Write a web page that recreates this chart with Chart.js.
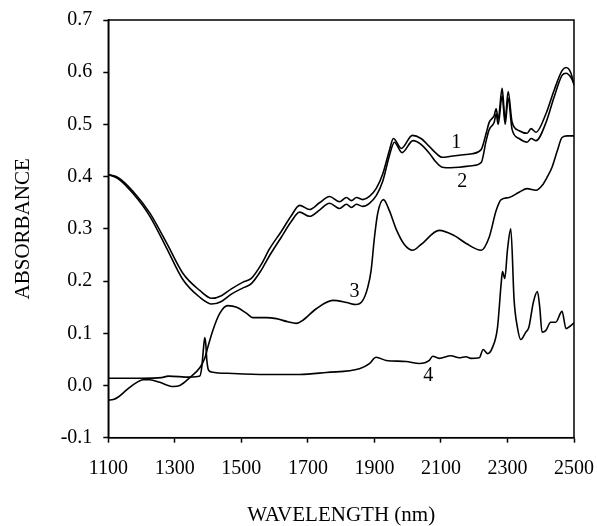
<!DOCTYPE html>
<html>
<head>
<meta charset="utf-8">
<script src="https://cdn.jsdelivr.net/npm/chart.js@4/dist/chart.umd.min.js"></script>
<style>
  html, body { margin: 0; padding: 0; background: #ffffff; }
  #wrap { width: 597px; height: 526px; }
</style>
</head>
<body>
<div id="wrap"><canvas id="c" width="597" height="526"></canvas></div>
<script>
// ---- data ----
const xTicks = [1100, 1300, 1500, 1700, 1900, 2100, 2300, 2500];
const yTicks = [-0.1, 0.0, 0.1, 0.2, 0.3, 0.4, 0.5, 0.6, 0.7];
const seriesNames = ["1", "2", "3", "4"];

const wl1 = [1100,1130,1174,1225,1276,1324,1375,1411,1440,1470,1505,1530,1560,1585,1620,1650,1675,1705,1735,1765,1795,1816,1831,1846,1865,1885,1906,1925,1945,1957,1981,2014,2040,2065,2085,2104,2130,2155,2194,2221,2236,2245,2260,2266,2272,2284,2293,2302,2314,2335,2359,2371,2386,2416,2440,2464,2476,2491,2500];
const abs1 = [0.404,0.398,0.372,0.330,0.272,0.215,0.182,0.167,0.172,0.185,0.198,0.205,0.232,0.262,0.295,0.325,0.345,0.337,0.350,0.362,0.352,0.360,0.354,0.360,0.356,0.362,0.378,0.405,0.450,0.473,0.454,0.479,0.473,0.458,0.445,0.437,0.439,0.441,0.444,0.452,0.483,0.504,0.517,0.530,0.510,0.569,0.508,0.563,0.504,0.488,0.483,0.492,0.485,0.521,0.565,0.603,0.609,0.598,0.575];

const wl2 = [1100,1130,1174,1225,1276,1324,1375,1411,1440,1470,1505,1530,1560,1585,1620,1650,1675,1705,1735,1765,1795,1816,1831,1846,1865,1885,1906,1925,1945,1960,1983,2016,2040,2065,2085,2104,2130,2155,2194,2221,2236,2245,2260,2266,2272,2284,2293,2302,2314,2335,2359,2371,2386,2416,2440,2464,2476,2491,2500];
const abs2 = [0.404,0.396,0.368,0.324,0.262,0.203,0.169,0.156,0.161,0.175,0.187,0.195,0.221,0.249,0.284,0.314,0.332,0.324,0.336,0.349,0.339,0.347,0.341,0.347,0.343,0.349,0.364,0.391,0.440,0.466,0.446,0.469,0.462,0.445,0.428,0.418,0.417,0.418,0.421,0.427,0.469,0.490,0.504,0.520,0.500,0.555,0.500,0.550,0.490,0.473,0.466,0.473,0.469,0.504,0.552,0.594,0.598,0.590,0.578];

const wl3 = [1100,1115,1130,1156,1186,1205,1225,1255,1295,1315,1345,1375,1390,1399,1414,1435,1459,1486,1516,1534,1575,1605,1640,1665,1685,1725,1775,1816,1845,1865,1880,1890,1900,1910,1927,1945,1965,1990,2015,2040,2095,2140,2176,2221,2245,2266,2281,2305,2335,2359,2386,2404,2420,2434,2450,2464,2480,2500];
const abs3 = [-0.028,-0.027,-0.022,-0.008,0.006,0.011,0.011,0.006,-0.002,0.000,0.015,0.034,0.052,0.073,0.105,0.138,0.153,0.150,0.138,0.130,0.130,0.128,0.122,0.119,0.125,0.147,0.163,0.159,0.155,0.163,0.188,0.220,0.283,0.330,0.356,0.335,0.300,0.270,0.259,0.270,0.297,0.287,0.272,0.259,0.284,0.335,0.356,0.360,0.370,0.377,0.374,0.383,0.400,0.418,0.450,0.475,0.478,0.478];

const wl4 = [1100,1200,1260,1280,1345,1375,1381,1386,1390,1393,1396,1401,1410,1475,1575,1675,1755,1855,1885,1905,1935,1995,2035,2065,2075,2095,2130,2155,2175,2190,2215,2227,2240,2255,2270,2281,2285,2292,2300,2310,2320,2330,2340,2355,2364,2378,2390,2397,2404,2415,2430,2445,2464,2476,2487,2500];
const abs4 = [0.014,0.014,0.015,0.018,0.016,0.018,0.035,0.070,0.092,0.080,0.050,0.030,0.026,0.023,0.021,0.021,0.025,0.032,0.042,0.054,0.048,0.046,0.042,0.048,0.056,0.052,0.057,0.053,0.055,0.052,0.053,0.069,0.061,0.073,0.111,0.195,0.218,0.205,0.260,0.300,0.163,0.111,0.088,0.102,0.111,0.160,0.180,0.150,0.102,0.105,0.121,0.121,0.142,0.109,0.113,0.120];

// curve number labels, anchored in data units
const labelWl  = [2146, 2164, 1840, 2062];
const labelAbs = [0.4646, 0.3908, 0.180, 0.0192];

// ---- chart ----
const FONT = "'Liberation Serif', 'Times New Roman', serif";
Chart.defaults.font.family = FONT;
Chart.defaults.color = '#000';

function pts(xs, ys) { return xs.map((x, i) => ({ x: x, y: ys[i] })); }
const wls = [wl1, wl2, wl3, wl4];
const abss = [abs1, abs2, abs3, abs4];

const datasets = seriesNames.map((n, i) => ({
  label: n,
  data: pts(wls[i], abss[i]),
  borderColor: '#000',
  borderWidth: 1.6,
  pointRadius: 0,
  fill: false,
  cubicInterpolationMode: 'monotone',
  tension: 0.4
}));

const framePlugin = {
  id: 'frame',
  afterDatasetsDraw(chart) {
    const { ctx, chartArea: a } = chart;
    ctx.save();
    ctx.strokeStyle = '#000';
    ctx.lineWidth = 1.5;
    ctx.strokeRect(a.left, a.top, a.right - a.left, a.bottom - a.top);
    ctx.restore();
  }
};

const labelPlugin = {
  id: 'curveLabels',
  afterDatasetsDraw(chart) {
    const { ctx, scales: { x, y } } = chart;
    ctx.save();
    ctx.fillStyle = '#000';
    ctx.font = "20px " + FONT;
    ctx.textAlign = 'center';
    ctx.textBaseline = 'middle';
    seriesNames.forEach((n, i) => {
      ctx.fillText(n, x.getPixelForValue(labelWl[i]), y.getPixelForValue(labelAbs[i]));
    });
    ctx.restore();
  }
};

new Chart(document.getElementById('c'), {
  type: 'line',
  data: { datasets: datasets },
  options: {
    responsive: false,
    animation: false,
    layout: { padding: { top: 20, right: 23, left: 0, bottom: 0 } },
    plugins: { legend: { display: false }, tooltip: { enabled: false } },
    scales: {
      x: {
        type: 'linear',
        min: xTicks[0],
        max: xTicks[xTicks.length - 1],
        afterBuildTicks(scale) { scale.ticks = xTicks.map(v => ({ value: v })); },
        ticks: { font: { size: 20 }, padding: 14, maxRotation: 0, color: '#000',
                 callback: v => String(v) },
        grid: { drawOnChartArea: false, drawTicks: true, tickLength: 5, tickColor: '#000', tickWidth: 1.5 },
        border: { display: true, color: '#000', width: 1.5 },
        title: { display: true, text: 'WAVELENGTH (nm)', font: { size: 21, lineHeight: 1.0 },
                 padding: { top: 0, bottom: 0 }, color: '#000' },
        afterFit(scale) { scale.height = 88.3; scale.paddingLeft = 0; scale.paddingRight = 0; }
      },
      y: {
        type: 'linear',
        min: yTicks[0],
        max: yTicks[yTicks.length - 1],
        afterBuildTicks(scale) { scale.ticks = yTicks.map(v => ({ value: v })); },
        ticks: { font: { size: 20 }, padding: 11, color: '#000',
                 callback: v => Number(v).toFixed(1) },
        grid: { drawOnChartArea: false, drawTicks: true, tickLength: 5, tickColor: '#000', tickWidth: 1.5 },
        border: { display: true, color: '#000', width: 1.5 },
        title: { display: true, text: 'ABSORBANCE', font: { size: 21, lineHeight: 1.0 },
                 padding: { top: 12.5, bottom: 0 }, color: '#000' },
        afterFit(scale) { scale.width = 108.3; scale.paddingTop = 0; scale.paddingBottom = 0; }
      }
    }
  },
  plugins: [framePlugin, labelPlugin]
});
</script>
</body>
</html>
